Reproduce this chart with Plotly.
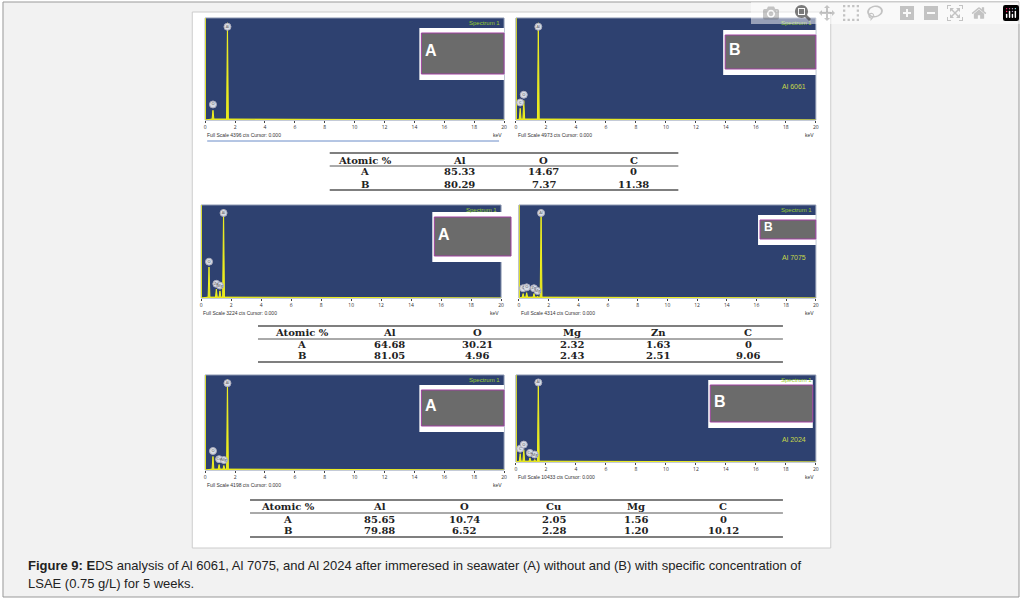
import plotly.graph_objects as go

W, H = 1025, 599

# spectra: peak energies (keV) and relative heights per panel
panel_names = ['6061 A', '6061 B', '7075 A', '7075 B', '2024 A', '2024 B']
peak_elems = [['O', 'Al'], ['C', 'O', 'Al'], ['O', 'Zn', 'Mg', 'Al'],
              ['C', 'O', 'Zn', 'Mg', 'Al'], ['O', 'Cu', 'Mg', 'Al'],
              ['C', 'O', 'Cu', 'Mg', 'Al']]
peak_kev = [[0.52, 1.49], [0.28, 0.52, 1.49], [0.52, 1.01, 1.25, 1.49],
            [0.28, 0.52, 1.01, 1.25, 1.49], [0.52, 0.93, 1.25, 1.49],
            [0.28, 0.52, 0.93, 1.25, 1.49]]
peak_h = [[0.1, 1.0], [0.12, 0.2, 1.0], [0.35, 0.1, 0.08, 1.0],
          [0.05, 0.06, 0.05, 0.02, 1.0], [0.15, 0.06, 0.05, 1.0],
          [0.1, 0.15, 0.05, 0.03, 1.0]]
full_scale = ['4396', '4973', '3224', '4314', '4198', '10433']
alloy_tag = ['', 'Al 6061', '', 'Al 7075', '', 'Al 2024']
inset_letter = ['A', 'B', 'A', 'B', 'A', 'B']

# tables
tab_headers = [['Atomic %', 'Al', 'O', 'C'],
               ['Atomic %', 'Al', 'O', 'Mg', 'Zn', 'C'],
               ['Atomic %', 'Al', 'O', 'Cu', 'Mg', 'C']]
tab_rows = [[['A', '85.33', '14.67', '0'], ['B', '80.29', '7.37', '11.38']],
            [['A', '64.68', '30.21', '2.32', '1.63', '0'], ['B', '81.05', '4.96', '2.43', '2.51', '9.06']],
            [['A', '85.65', '10.74', '2.05', '1.56', '0'], ['B', '79.88', '6.52', '2.28', '1.20', '10.12']]]

# layout in pixels
boxes = [(205, 505, 18, 120), (517, 818, 18, 120), (201, 502, 205, 298),
         (520, 818, 205, 298), (205, 505, 375, 470), (517, 818, 375, 462)]
insets = [(420, 505, 28, 80), (725, 818, 30, 75), (433, 512, 212, 262),
          (760, 818, 215, 245), (420, 505, 385, 432), (710, 815, 380, 428)]
tab_x = [(330, 680), (258, 785), (250, 785)]
tab_cols = [[365, 460, 545, 635], [302, 390, 478, 573, 660, 750],
            [288, 380, 465, 555, 637, 725]]
tab_y = [(153, 166, 190), (326, 339, 362), (500, 513, 537)]
tab_text_y = [(160, 172, 184), (332, 344, 355), (506, 519, 530)]

fx = lambda x: x / W
fy = lambda y: 1 - y / H

fig = go.Figure()
shapes, ann = [], []
navy = '#2e4170'


def note(x, y, text, size, color, xanchor='center', family='Liberation Sans'):
    ann.append(dict(xref='paper', yref='paper', x=fx(x), y=fy(y), text=text, showarrow=False,
                    xanchor=xanchor, yanchor='middle', font=dict(size=size, color=color, family=family)))


shapes.append(dict(type='rect', xref='paper', yref='paper', x0=fx(2), x1=fx(1022), y0=fy(597), y1=fy(2),
                   fillcolor='#f2f2f2', line=dict(color='#999', width=1), layer='below'))
shapes.append(dict(type='rect', xref='paper', yref='paper', x0=fx(192), x1=fx(833), y0=fy(548), y1=fy(12),
                   fillcolor='white', line=dict(color='#ccc', width=1), layer='below'))

for i in range(6):
    n = i + 1
    xa, ya = f'x{n}', f'y{n}'
    x0, x1, y0, y1 = boxes[i]
    shapes.append(dict(type='rect', xref='paper', yref='paper', x0=fx(x0), x1=fx(x1), y0=fy(y1), y1=fy(y0),
                       fillcolor=navy, line=dict(color='#8a96b0', width=1), layer='below'))
    xs, ys = [0, 0, 0.02, 0.02], [0, 1.05, 1.05, 0]
    for e, h in zip(peak_kev[i], peak_h[i]):
        xs += [e - 0.06, e, e + 0.06]
        ys += [0.01, h, 0.01]
    xs += [20]
    ys += [0]
    fig.add_trace(go.Scatter(x=xs, y=ys, mode='lines', fill='tozeroy', fillcolor='#e6e619',
                             line=dict(color='#f0f020', width=1), xaxis=xa, yaxis=ya, showlegend=False))
    fig.add_trace(go.Scatter(x=peak_kev[i], y=[min(h + 0.06, 0.96) for h in peak_h[i]], mode='markers+text',
                             text=peak_elems[i], textfont=dict(size=4, color='#555'),
                             marker=dict(size=7, color='#d8dde6', line=dict(color='#aab', width=1)),
                             xaxis=xa, yaxis=ya, showlegend=False))
    key = '' if n == 1 else str(n)
    fig.layout['xaxis' + key] = dict(domain=[fx(x0), fx(x1)], range=[0, 20], anchor=ya, dtick=2,
                                     tickfont=dict(size=5, color='#333'), ticks='outside', ticklen=2,
                                     showgrid=False, zeroline=False, fixedrange=True)
    fig.layout['yaxis' + key] = dict(domain=[fy(y1), fy(y0)], range=[0, 1.05], anchor=xa,
                                     showticklabels=False, showgrid=False, zeroline=False)
    note(x1 - 2, y0 + 5, 'Spectrum 1', 6, '#9acd32', 'right')
    note(x0, y1 + 15, f'Full Scale {full_scale[i]} cts Cursor: 0.000', 5, '#333', 'left')
    note(x1, y1 + 15, 'keV', 5, '#333', 'right')
    if alloy_tag[i]:
        note(x1 - 8, insets[i][3] + 12, alloy_tag[i], 7, '#c8d84a', 'right')
    a0, a1, b0, b1 = insets[i]
    shapes.append(dict(type='rect', xref='paper', yref='paper', x0=fx(a0), x1=fx(a1), y0=fy(b1), y1=fy(b0),
                       fillcolor='white', line=dict(width=0)))
    shapes.append(dict(type='rect', xref='paper', yref='paper', x0=fx(a0 + 2), x1=fx(a1), y0=fy(b1 - 6),
                       y1=fy(b0 + 5), fillcolor='#6b6b6b', line=dict(color='#a040a0', width=1)))
    note(a0 + 4, (b0 + b1) / 2 - 3, '<b>' + inset_letter[i] + '</b>', 16 if a1 - a0 > 70 else 12, 'white', 'left')

shapes.append(dict(type='line', xref='paper', yref='paper', x0=fx(207), x1=fx(500), y0=fy(141), y1=fy(141),
                   line=dict(color='#6a8cc8', width=1)))

for t in range(3):
    xl, xr = tab_x[t]
    for k, yy in enumerate(tab_y[t]):
        shapes.append(dict(type='line', xref='paper', yref='paper', x0=fx(xl), x1=fx(xr), y0=fy(yy), y1=fy(yy),
                           line=dict(color='#555', width=1.5 if k != 1 else 1)))
    rows = [tab_headers[t]] + tab_rows[t]
    for r, row in enumerate(rows):
        for c, txt in enumerate(row):
            note(tab_cols[t][c], tab_text_y[t][r], '<b>' + txt + '</b>', 10, '#222', 'center', 'DejaVu Serif')

note(25, 565, '<b>Figure 9: E</b>DS analysis of Al 6061, Al 7075, and Al 2024 after immeresed in seawater (A) without and (B) with specific concentration of',
     13, '#222', 'left')
note(25, 583, 'LSAE (0.75 g/L) for 5 weeks.', 13, '#222', 'left')

fig.update_layout(width=W, height=H, margin=dict(l=0, r=0, t=0, b=0), paper_bgcolor='white',
                  plot_bgcolor='rgba(0,0,0,0)', shapes=shapes, annotations=ann, showlegend=False)
fig.write_html('out.html', post_script="document.body.style.margin='0';")
